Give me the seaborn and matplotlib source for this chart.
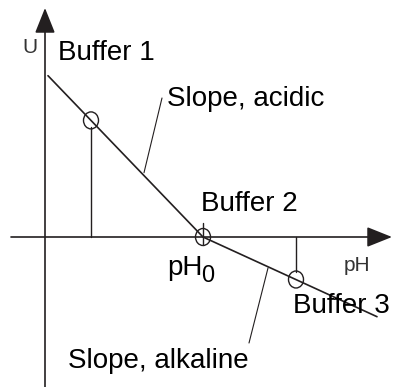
import matplotlib
matplotlib.use("Agg")
import matplotlib.pyplot as plt
from matplotlib.patches import Ellipse
import seaborn as sns
import pandas as pd

# ---- schematic data (pH units on x, potential U on y) ----
acid_ph = [0.3, 15.8]
acid_u = [16.13, 0.0]
alk_ph = [15.8, 33.2]
alk_u = [0.0, -7.97]
buffer_ph = [4.6, 15.8, 25.1]
buffer_u = [11.66, 0.0, -4.25]
buffer_labels = ["Buffer 1", "Buffer 2", "Buffer 3"]
ph0 = 15.8

sns.set_theme(style="white")
plt.rcParams["font.family"] = ["Liberation Sans", "DejaVu Sans"]

INK = "#231f20"
fig = plt.figure(figsize=(3.95, 3.87), dpi=100)
ax = fig.add_axes([0, 0, 1, 1])
ax.set_xlim(-4.5, 35.0)
ax.set_ylim(-15.0, 23.7)
ax.axis("off")

# axes with arrows
arrow_style = "-|>,head_length=0.6,head_width=0.24"
ax.annotate("", xy=(0, 22.9), xytext=(0, -15.2),
            arrowprops=dict(arrowstyle=arrow_style, lw=1.2, color=INK,
                            shrinkA=0, shrinkB=0, mutation_scale=26))
ax.annotate("", xy=(34.7, 0), xytext=(-3.4, 0),
            arrowprops=dict(arrowstyle=arrow_style, lw=1.2, color=INK,
                            shrinkA=0, shrinkB=0, mutation_scale=26))

# slope lines
sns.lineplot(data=pd.DataFrame({"pH": acid_ph, "U": acid_u}), x="pH", y="U",
             ax=ax, color=INK, lw=1.2, legend=False)
sns.lineplot(data=pd.DataFrame({"pH": alk_ph, "U": alk_u}), x="pH", y="U",
             ax=ax, color=INK, lw=1.2, legend=False)

# buffer circles
for bx, by in zip(buffer_ph, buffer_u):
    ax.add_patch(Ellipse((bx, by), 1.5, 1.7, fill=False, ec=INK, lw=1.0))

# drop lines
ax.plot([buffer_ph[0], buffer_ph[0]], [0, buffer_u[0] - 0.7], color=INK, lw=1.0)
ax.plot([buffer_ph[2], buffer_ph[2]], [0, buffer_u[2] + 0.8], color=INK, lw=1.0)
# pH0 tick
ax.plot([ph0, ph0], [-0.8, 1.4], color=INK, lw=1.0)

# leader lines
ax.plot([9.9, 11.7], [6.43, 13.9], color=INK, lw=0.8)
ax.plot([22.3, 20.4], [-3.1, -10.6], color=INK, lw=0.8)

fs = 20
ax.text(1.3, 17.75, buffer_labels[0], fontsize=fs, color="black", ha="left", va="baseline")
ax.text(15.57, 2.63, buffer_labels[1], fontsize=fs, color="black", ha="left", va="baseline")
ax.text(24.8, -7.6, buffer_labels[2], fontsize=fs, color="black", ha="left", va="baseline")
ax.text(12.17, 13.13, "Slope, acidic", fontsize=fs, color="black", ha="left", va="baseline")
ax.text(2.33, -13.1, "Slope, alkaline", fontsize=fs, color="black", ha="left", va="baseline")
ax.text(12.2, -3.8, "pH", fontsize=fs, color="black", ha="left", va="baseline")
ax.text(15.6, -4.45, "0", fontsize=17, color="black", ha="left", va="baseline")
ax.text(29.83, -3.4, "pH", fontsize=15, color="#333333", ha="left", va="baseline")
ax.text(-2.23, 18.37, "U", fontsize=15, color="#333333", ha="left", va="baseline")

fig.savefig("out.png", dpi=100)
